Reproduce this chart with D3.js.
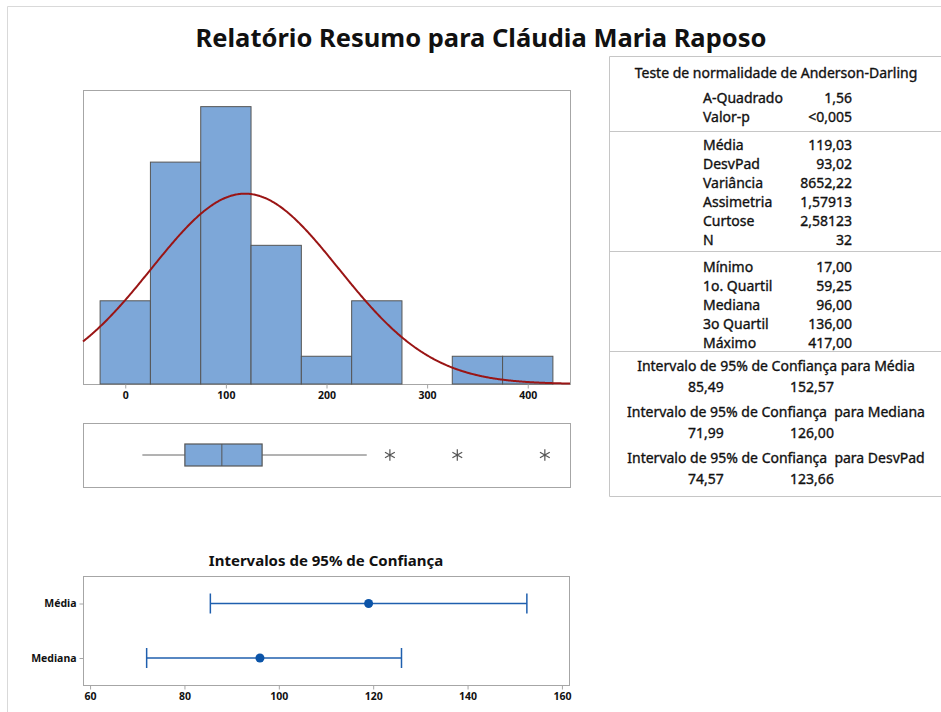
<!DOCTYPE html>
<meta charset="utf-8">
<script src="https://d3js.org/d3.v7.min.js"></script>
<style>
body { margin: 0; background: #fff; }
text { font-family: "Noto Sans", "Open Sans", sans-serif; fill: #111; white-space: pre; }
.tbl text { stroke: #111; stroke-width: 0.35px; }
</style>
<svg id="my_dataviz" width="941" height="712"></svg>
<script>

// histogram data (bin width 50)
var binEdges = [-25, 25, 75, 125, 175, 225, 275, 325, 375, 425];
var binCounts = [3, 8, 10, 5, 1, 3, 0, 1, 1];
var histTicks = [0, 100, 200, 300, 400];

// summary stats
var meanVal = 119.03, sdVal = 93.02, nObs = 32;
var boxVals = [17, 59.25, 96, 136, 240];   // whisker lo, q1, median, q3, whisker hi
var outliers = [263, 330, 417];

// confidence intervals
var ciLabels = ["Média", "Mediana"];
var ciCenter = [119.03, 96.00];
var ciLow = [85.49, 71.99];
var ciHigh = [152.57, 126.00];
var ciTicks = [60, 80, 100, 120, 140, 160];

// table text
var adRows = [["A-Quadrado", "1,56"], ["Valor-p", "<0,005"]];
var momentRows = [["Média", "119,03"], ["DesvPad", "93,02"], ["Variância", "8652,22"],
                  ["Assimetria", "1,57913"], ["Curtose", "2,58123"], ["N", "32"]];
var quantRows = [["Mínimo", "17,00"], ["1o. Quartil", "59,25"], ["Mediana", "96,00"],
                 ["3o Quartil", "136,00"], ["Máximo", "417,00"]];
var ciTitles = ["Intervalo de 95% de Confiança para Média",
                "Intervalo de 95% de Confiança  para Mediana",
                "Intervalo de 95% de Confiança  para DesvPad"];
var ciValues = [["85,49", "152,57"], ["71,99", "126,00"], ["74,57", "123,66"]];

var svg = d3.select("svg");
var frameCol = "#a6a6a6";
var barFill = "#7da7d8", barStroke = "#555";

// outer page frame
svg.append("path").attr("d", "M7.5,712 V6.5 H941")
  .attr("fill", "none").attr("stroke", "#d9d9d9");

// title
svg.append("text").attr("x", 481).attr("y", 47).attr("text-anchor", "middle")
  .style("font-size", "25.5px").style("font-weight", "bold")
  .text("Relatório Resumo para Cláudia Maria Raposo");

// ---- histogram ----
var L = 83, R = 570, T = 90, B = 384;
var x = d3.scaleLinear().domain([-42, 442]).range([L, R]);
var y = d3.scaleLinear().domain([0, 10.6]).range([B, T]);

svg.append("rect").attr("x", L + 0.5).attr("y", T + 0.5).attr("width", R - L).attr("height", B - T)
  .attr("fill", "none").attr("stroke", frameCol);

var bars = svg.append("g");
binCounts.forEach(function(c, i) {
  if (c === 0) return;
  bars.append("rect")
    .attr("x", x(binEdges[i]))
    .attr("y", y(c))
    .attr("width", x(binEdges[i + 1]) - x(binEdges[i]))
    .attr("height", y(0) - y(c))
    .attr("fill", barFill).attr("stroke", barStroke).attr("stroke-width", 1);
});

// fitted normal curve from mean / sd
var binW = binEdges[1] - binEdges[0];
var curvePts = d3.range(-42, 442.5, 1).map(function(v) {
  var z = (v - meanVal) / sdVal;
  return [v, nObs * binW * Math.exp(-0.5 * z * z) / (sdVal * Math.sqrt(2 * Math.PI))];
});
svg.append("path").datum(curvePts)
  .attr("d", d3.line().x(d => x(d[0])).y(d => y(d[1])).curve(d3.curveBasis))
  .attr("fill", "none").attr("stroke", "#9a1515").attr("stroke-width", 2);

var xAxis = svg.append("g").attr("transform", "translate(0," + (B + 0.5) + ")")
  .call(d3.axisBottom(x).tickValues(histTicks).tickSize(4).tickPadding(3));
xAxis.select(".domain").remove();
xAxis.selectAll("line").attr("stroke", frameCol);
xAxis.selectAll("text").style("font-size", "10.5px").style("font-weight", "bold")
  .style("font-family", "'Noto Sans', sans-serif").attr("fill", "#222");

// ---- boxplot ----
var bT = 423, bB = 487, bc = 455;
svg.append("rect").attr("x", L + 0.5).attr("y", bT + 0.5).attr("width", R - L).attr("height", bB - bT)
  .attr("fill", "none").attr("stroke", frameCol);
svg.append("line").attr("x1", x(boxVals[0])).attr("x2", x(boxVals[1])).attr("y1", bc).attr("y2", bc)
  .attr("stroke", "#666");
svg.append("line").attr("x1", x(boxVals[3])).attr("x2", x(boxVals[4])).attr("y1", bc).attr("y2", bc)
  .attr("stroke", "#666");
svg.append("rect").attr("x", x(boxVals[1])).attr("y", bc - 11)
  .attr("width", x(boxVals[3]) - x(boxVals[1])).attr("height", 22)
  .attr("fill", barFill).attr("stroke", barStroke).attr("stroke-width", 1.2);
svg.append("line").attr("x1", x(boxVals[2])).attr("x2", x(boxVals[2])).attr("y1", bc - 11).attr("y2", bc + 11)
  .attr("stroke", barStroke);
svg.append("g").selectAll("path").data(outliers).enter().append("path")
  .attr("transform", d => "translate(" + x(d) + "," + bc + ")")
  .attr("d", d3.symbol().type(d3.symbolAsterisk).size(90))
  .attr("fill", "none").attr("stroke", "#555").attr("stroke-width", 1.2);

// ---- confidence intervals ----
svg.append("text").attr("x", 326).attr("y", 566).attr("text-anchor", "middle")
  .style("font-size", "15px").style("font-weight", "bold").text("Intervalos de 95% de Confiança");

var cT = 576, cB = 685, cL = 83, cR = 569;
var xc = d3.scaleLinear().domain([58.5, 161.5]).range([cL, cR]);
var yc = d3.scalePoint().domain(ciLabels).range([603.5, 658]);

svg.append("rect").attr("x", cL + 0.5).attr("y", cT + 0.5).attr("width", cR - cL).attr("height", cB - cT)
  .attr("fill", "none").attr("stroke", frameCol);

var ciX = svg.append("g").attr("transform", "translate(0," + (cB + 0.5) + ")")
  .call(d3.axisBottom(xc).tickValues(ciTicks).tickSize(4).tickPadding(3));
ciX.select(".domain").remove();
ciX.selectAll("line").attr("stroke", frameCol);
ciX.selectAll("text").style("font-size", "10.5px").style("font-weight", "bold")
  .style("font-family", "'Noto Sans', sans-serif").attr("fill", "#222");

var ciY = svg.append("g").attr("transform", "translate(" + (cL + 0.5) + ",0)")
  .call(d3.axisLeft(yc).tickSize(4).tickPadding(3));
ciY.select(".domain").remove();
ciY.selectAll("line").attr("stroke", frameCol);
ciY.selectAll("text").style("font-size", "10.5px").style("font-weight", "bold")
  .style("font-family", "'Noto Sans', sans-serif").attr("fill", "#222");

var ciCol = "#1f5fae";
ciLabels.forEach(function(lab, i) {
  var yy = yc(lab);
  var g = svg.append("g").attr("stroke", ciCol).attr("stroke-width", 1.5);
  g.append("line").attr("x1", xc(ciLow[i])).attr("x2", xc(ciHigh[i])).attr("y1", yy).attr("y2", yy);
  g.append("line").attr("x1", xc(ciLow[i])).attr("x2", xc(ciLow[i])).attr("y1", yy - 10).attr("y2", yy + 10);
  g.append("line").attr("x1", xc(ciHigh[i])).attr("x2", xc(ciHigh[i])).attr("y1", yy - 10).attr("y2", yy + 10);
  svg.append("circle").attr("cx", xc(ciCenter[i])).attr("cy", yy).attr("r", 4.5).attr("fill", "#0b54a8");
});

// ---- summary table ----
var tL = 609.5, tableCol = "#c6c6c6";
var tbl = svg.append("g").attr("class", "tbl");
tbl.append("path").attr("d", "M941,56.5 H" + tL + " V496.5 H941").attr("fill", "none").attr("stroke", tableCol);
[131.5, 251.5, 351.5].forEach(function(yy) {
  tbl.append("line").attr("x1", tL).attr("x2", 941).attr("y1", yy).attr("y2", yy).attr("stroke", tableCol);
});

var fs = "14px";
tbl.append("text").attr("x", 776).attr("y", 78).attr("text-anchor", "middle")
  .style("font-size", fs).text("Teste de normalidade de Anderson-Darling");

function rows(data, y0) {
  data.forEach(function(r, i) {
    tbl.append("text").attr("x", 703).attr("y", y0 + i * 19).style("font-size", fs).text(r[0]);
    tbl.append("text").attr("x", 852).attr("y", y0 + i * 19).attr("text-anchor", "end")
      .style("font-size", fs).text(r[1]);
  });
}
rows(adRows, 103);
rows(momentRows, 150);
rows(quantRows, 272);

var ciTitleY = [371, 417, 463];
ciTitles.forEach(function(t, i) {
  tbl.append("text").attr("x", 776).attr("y", ciTitleY[i]).attr("text-anchor", "middle")
    .style("font-size", fs).text(t);
  tbl.append("text").attr("x", 706).attr("y", ciTitleY[i] + 21).attr("text-anchor", "middle")
    .style("font-size", fs).text(ciValues[i][0]);
  tbl.append("text").attr("x", 812).attr("y", ciTitleY[i] + 21).attr("text-anchor", "middle")
    .style("font-size", fs).text(ciValues[i][1]);
});

</script>
